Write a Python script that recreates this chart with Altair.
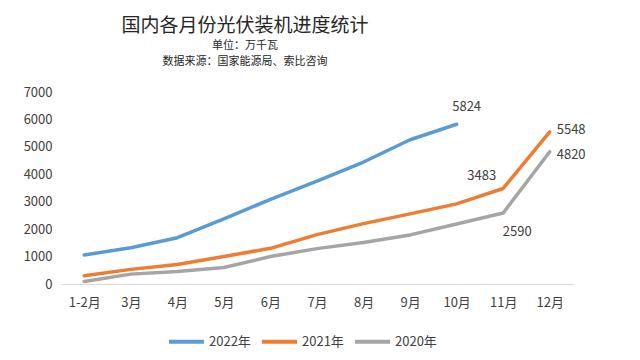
import altair as alt
import pandas as pd

months = ["1-2月", "3月", "4月", "5月", "6月", "7月", "8月", "9月", "10月", "11月", "12月"]
series_names = ["2022年", "2021年", "2020年"]
v2022 = [1060, 1321, 1688, 2371, 3088, 3752, 4447, 5260, 5824, None, None]
v2021 = [300, 533, 712, 1000, 1301, 1800, 2200, 2556, 2920, 3483, 5548]
v2020 = [90, 360, 452, 600, 1000, 1290, 1510, 1790, 2190, 2590, 4820]
y_ticks = [0, 1000, 2000, 3000, 4000, 5000, 6000, 7000]
colors = ["#5B9BD5", "#ED7D31", "#A5A5A5"]

rows = []
for name, vals in zip(series_names, [v2022, v2021, v2020]):
    for m, v in zip(months, vals):
        if v is not None:
            rows.append({"month": m, "series": name, "value": v})
df = pd.DataFrame(rows)

FONT = "Noto Sans CJK SC"

x = alt.X("month:N", sort=months, title=None,
          axis=alt.Axis(labelAngle=0, ticks=False, domainColor="#D9D9D9", domainWidth=1,
                        labelFontSize=13, labelColor="#404040", labelPadding=12, labelFont=FONT))
y = alt.Y("value:Q", title=None, scale=alt.Scale(domain=[0, 7000], nice=False),
          axis=alt.Axis(values=y_ticks, tickCount=8, format="d", labelOverlap=False, grid=False,
                        domain=False, ticks=False, labelFontSize=13, labelColor="#404040",
                        labelPadding=9, labelFont=FONT))

lines = alt.Chart(df).mark_line(strokeWidth=3.5, strokeJoin="round", strokeCap="round").encode(
    x=x, y=y,
    color=alt.Color("series:N", sort=series_names,
                    scale=alt.Scale(domain=series_names, range=colors),
                    legend=alt.Legend(title=None, orient="none", direction="horizontal",
                                      legendX=106, legendY=230, symbolType="stroke",
                                      symbolSize=1225, symbolStrokeWidth=4, labelFontSize=13,
                                      labelColor="#404040", labelFont=FONT, columnPadding=3,
                                      labelOffset=3))
)

def label(series, month, dx, dy, align):
    return alt.Chart(df).transform_filter(
        (alt.datum.series == series) & (alt.datum.month == month)
    ).mark_text(dx=dx, dy=dy, align=align, baseline="middle", fontSize=13,
                color="#404040", font=FONT).encode(x=x, y=y, text="value:Q")

labels = [
    label("2022年", "10月", 10, -17, "center"),
    label("2021年", "12月", 7, -2, "left"),
    label("2020年", "12月", 7, 3, "left"),
    label("2021年", "11月", -7, -12, "right"),
    label("2020年", "11月", 14, 19, "center"),
]

chart = alt.layer(lines, *labels).properties(
    width=512, height=192,
    autosize=alt.AutoSizeParams(type="none"),
    padding={"left": 53, "top": 84, "right": 50, "bottom": 66},
    title=alt.TitleParams(text="国内各月份光伏装机进度统计",
                          subtitle=["单位：万千瓦", "数据来源：国家能源局、索比咨询"],
                          fontSize=19, fontWeight="normal", font=FONT, color="#262626",
                          subtitleFontSize=11, subtitleFont=FONT, subtitleColor="#262626",
                          subtitleLineHeight=16, subtitlePadding=4,
                          anchor="middle", frame="group", dx=-72, offset=19),
).configure_view(stroke=None)

chart.save("out.html", embed_options={"renderer": "svg", "actions": False})
